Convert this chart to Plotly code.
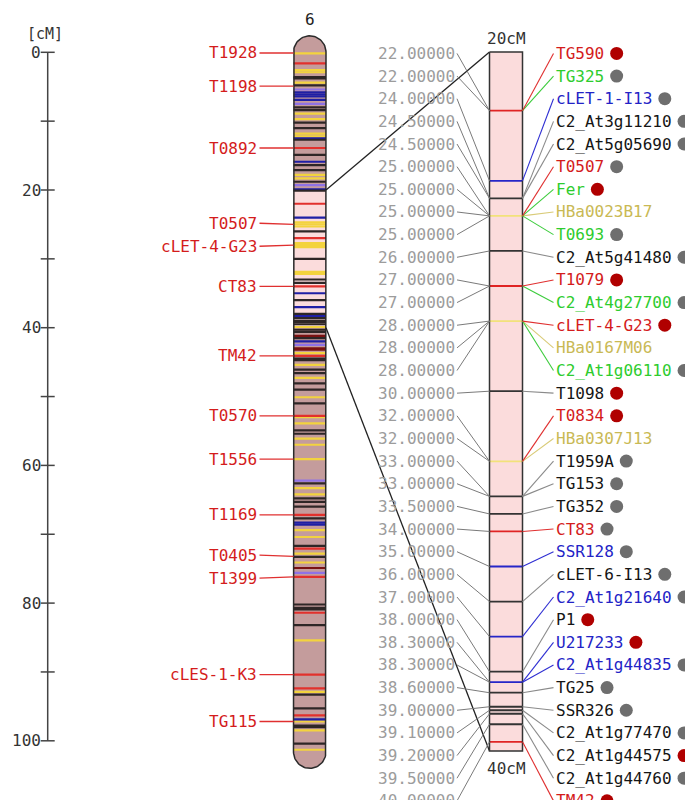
import numpy as np
import plotly.graph_objects as go

# ---------------- data ----------------
CHROMOSOME = "6"
CHROM_LENGTH = 101.6            # cM
ZOOM_START, ZOOM_END = 20, 40   # cM, highlighted region
RULER_MAX = 100
RULER_TICKS = list(range(0, 101, 10))
RULER_LABELS = list(range(0, 101, 20))

MAIN_MARKERS = ["T1928", "T1198", "T0892", "T0507", "cLET-4-G23", "CT83", "TM42",
                "T0570", "T1556", "T1169", "T0405", "T1399", "cLES-1-K3", "TG115"]
MAIN_POS = [0.1, 4.9, 13.9, 25.0, 28.0, 34.0, 44.1,
            52.8, 59.1, 67.2, 73.2, 76.2, 90.4, 97.2]

BAND_POS = [0.15, 1.6, 2.6, 2.9, 3.6, 3.8, 4.4, 4.8, 5.4, 5.8, 6.1, 6.4, 6.9, 7.5, 8.0, 8.4,
            8.9, 9.7, 10.2, 11.0, 11.8, 12.2, 12.5, 12.7, 13.9, 14.9, 15.9, 16.4, 17.1, 17.8,
            18.3, 18.8, 19.3, 19.9, 20.1,
            22.0, 24.0, 24.7, 25.0, 25.3, 26.0, 27.0, 27.7, 28.0, 28.3, 30.0, 31.9, 32.2,
            33.0, 33.5, 34.0, 35.0, 36.0, 37.0, 38.0, 38.2, 38.4, 38.6, 39.0, 39.1, 39.2,
            39.5, 39.9, 40.3,
            40.6, 41.2, 41.5, 42.0, 42.5, 43.0, 43.2, 43.7, 44.1, 44.5, 44.7, 45.4, 46.1,
            46.6, 47.3, 48.1, 49.0, 50.1, 51.0, 52.8, 53.0, 53.9, 54.9, 55.4, 56.1, 57.0,
            59.1, 62.2, 62.6, 63.3, 64.2, 64.8, 65.3, 66.0, 67.2, 67.7, 68.3, 68.6, 69.4,
            70.4, 71.7, 72.1, 72.8, 73.3, 74.1, 74.9, 75.6, 76.2, 80.2, 80.7, 80.9, 81.4,
            83.2, 85.4, 90.4, 92.4, 92.9, 93.3, 95.3, 96.3, 96.9, 97.2, 97.8, 98.0, 98.5,
            100.4, 101.3]
BAND_TYPE = ["yellow", "red", "yellow", "yellow", "black", "black", "yellow", "black", "violet",
             "blue", "blue", "blue", "blue", "violet", "black", "black",
             "yellow", "yellow", "black", "black", "yellow", "yellow", "blue", "black", "red",
             "black", "blue", "black", "black", "yellow",
             "yellow", "black", "violet", "blue", "black",
             "red", "blue", "yellow", "yellow", "yellow", "black", "red", "yellow", "yellow",
             "yellow", "black", "yellow", "yellow",
             "black", "black", "red", "blue", "black", "blue", "black", "blue", "blue", "black",
             "black", "black", "black", "black", "yellow", "black",
             "black", "darkred", "black", "blue", "violet", "darkred", "darkred", "yellow",
             "red", "black", "black", "yellow", "black",
             "black", "yellow", "black", "black", "yellow", "black", "red", "yellow", "yellow",
             "black", "black", "yellow", "yellow",
             "yellow", "violet", "black", "yellow", "yellow", "black", "black", "black", "red",
             "black", "blue", "blue", "yellow",
             "yellow", "black", "red", "yellow", "black", "yellow", "darkred", "violet", "red",
             "black", "black", "black", "red",
             "black", "yellow", "red", "red", "yellow", "black", "black", "red", "blue",
             "yellow", "black", "black", "yellow",
             "black", "yellow"]

ZOOM_MARKERS = ["TG590", "TG325", "cLET-1-I13", "C2_At3g11210", "C2_At5g05690", "T0507", "Fer",
                "HBa0023B17", "T0693", "C2_At5g41480", "T1079", "C2_At4g27700", "cLET-4-G23",
                "HBa0167M06", "C2_At1g06110", "T1098", "T0834", "HBa0307J13", "T1959A", "TG153",
                "TG352", "CT83", "SSR128", "cLET-6-I13", "C2_At1g21640", "P1", "U217233",
                "C2_At1g44835", "TG25", "SSR326", "C2_At1g77470", "C2_At1g44575",
                "C2_At1g44760", "TM42"]
ZOOM_POS = [22.0, 22.0, 24.0, 24.5, 24.5, 25.0, 25.0, 25.0, 25.0, 26.0, 27.0, 27.0, 28.0, 28.0,
            28.0, 30.0, 32.0, 32.0, 33.0, 33.0, 33.5, 34.0, 35.0, 36.0, 37.0, 38.0, 38.3, 38.3,
            38.6, 39.0, 39.1, 39.2, 39.5, 40.0]
ZOOM_TYPE = ["red", "green", "blue", "black", "black", "red", "green", "khaki", "green", "black",
             "red", "green", "red", "khaki", "green", "black", "red", "khaki", "black", "black",
             "black", "red", "blue", "black", "blue", "black", "blue", "blue", "black", "black",
             "black", "black", "black", "red"]
ZOOM_FLAG = ["red", "gray", "gray", "gray", "gray", "gray", "red", "none", "gray", "gray",
             "red", "gray", "red", "none", "gray", "red", "red", "none", "gray", "gray",
             "gray", "gray", "gray", "gray", "gray", "red", "red", "gray", "gray", "gray",
             "gray", "red", "gray", "red"]

# ---------------- styles / layout constants ----------------
W, H = 693, 800
PAGE_MARGIN = 8                     # browser body margin around the figure
FONT = "DejaVu Sans Mono"
MAIN_PX0, MAIN_K = 52.3, 6.885      # pixel of 0 cM, pixels per cM (main map)
ZOOM_PX0, ZOOM_K = -660.6, 35.06    # zoom panel scale
CHAR_W = 9.63

RULER_X = 47.7
CHR_X0, CHR_X1 = 293.5, 326.0
BOX_X0, BOX_X1 = 489.5, 522.5
NUM_RIGHT = 456.5
NAME_LEFT = 553.5
MAIN_LABEL_RIGHT = 258.5

BODY_COLOR = "#c49c9c"
HIGHLIGHT_COLOR = "#fbdcdc"
BAND_COLORS = {"yellow": "#f3d33e", "red": "#e2302c", "blue": "#1f1fa5", "black": "#2e2626",
               "violet": "#8f72e6", "darkred": "#7a1212"}
ZBAND_COLORS = {"yellow": "#f2e27a", "khaki": "#f2e27a", "red": "#e02424", "blue": "#2626c8",
                "green": "#33cc33", "black": "#333333"}
TEXT_COLORS = {"red": "#d41c1c", "green": "#2ecc2e", "blue": "#2323c6", "black": "#151515",
               "khaki": "#c9b954"}
LINK_COLORS = {"red": "#e03030", "green": "#3ccc3c", "blue": "#2e2ed2", "black": "#8a8a8a",
               "khaki": "#d9cb78"}
FLAG_COLORS = {"red": "#b00000", "gray": "#6e6e6e"}
PRIORITY = ["khaki", "red", "blue", "green", "black"]


def main_from_px(px):
    return (px - MAIN_PX0) / MAIN_K


def zoom_from_px(px):
    return (px - ZOOM_PX0) / ZOOM_K


def zoom_to_main(z):
    return main_from_px(ZOOM_PX0 + ZOOM_K * z)


def spread(ideal, gap):
    """Isotonic (pool-adjacent-violators) label spreading with a minimum gap."""
    blocks = []
    for i, v in enumerate(ideal):
        blocks.append([i, 1, v - i * gap])
        while len(blocks) > 1 and blocks[-2][2] / blocks[-2][1] > blocks[-1][2] / blocks[-1][1]:
            b = blocks.pop()
            blocks[-1][1] += b[1]
            blocks[-1][2] += b[2]
    out = []
    for s, n, tot in blocks:
        m = tot / n
        out += [m + (s + k) * gap for k in range(n)]
    return out


BOX_TOP, BOX_BOT = zoom_from_px(52), zoom_from_px(751)

fig = go.Figure()

# ---------------- ruler ----------------
fig.add_trace(go.Scatter(x=[RULER_X, RULER_X], y=[0, RULER_MAX], mode="lines",
                         line=dict(color="#444", width=1.5), hoverinfo="skip"))
fig.add_trace(go.Scatter(x=[RULER_X] * len(RULER_TICKS), y=RULER_TICKS, mode="markers",
                         marker=dict(symbol="line-ew", size=10,
                                     line=dict(color="#444", width=1.5)), hoverinfo="skip"))

annotations = []
for v in RULER_LABELS:
    annotations.append(dict(x=42.5, y=v, xref="x", yref="y", text=str(v), showarrow=False,
                            xanchor="right", yanchor="middle",
                            font=dict(family=FONT, size=16, color="#333")))
annotations.append(dict(x=45, y=main_from_px(34), xref="x", yref="y", text="[cM]",
                        showarrow=False, xanchor="center", yanchor="middle",
                        font=dict(family=FONT, size=15, color="#333")))

# ---------------- chromosome ----------------
cx = (CHR_X0 + CHR_X1) / 2
rx = (CHR_X1 - CHR_X0) / 2
ry = 16.5 / MAIN_K
t = np.linspace(0, np.pi, 40)
ox = [CHR_X0, CHR_X0] + list(cx - rx * np.cos(t)) + [CHR_X1, CHR_X1] + list(cx + rx * np.cos(t))
oy = [CHROM_LENGTH, 0] + list(-ry * np.sin(t)) + [0, CHROM_LENGTH] + list(CHROM_LENGTH + ry * np.sin(t))
ox.append(ox[0])
oy.append(oy[0])
fig.add_trace(go.Scatter(x=ox, y=oy, mode="lines", fill="toself", fillcolor=BODY_COLOR,
                         line=dict(width=0), hoverinfo="skip"))
fig.add_trace(go.Scatter(x=[CHR_X0, CHR_X1, CHR_X1, CHR_X0, CHR_X0],
                         y=[ZOOM_START, ZOOM_START, ZOOM_END, ZOOM_END, ZOOM_START],
                         mode="lines", fill="toself", fillcolor=HIGHLIGHT_COLOR,
                         line=dict(width=0), hoverinfo="skip"))
for ctype, col in BAND_COLORS.items():
    xs, ys = [], []
    for p, bt in zip(BAND_POS, BAND_TYPE):
        if bt == ctype:
            xs += [CHR_X0, CHR_X1, None]
            ys += [p, p, None]
    fig.add_trace(go.Scatter(x=xs, y=ys, mode="lines", line=dict(color=col, width=2.2),
                             hoverinfo="skip"))
fig.add_trace(go.Scatter(x=ox, y=oy, mode="lines", line=dict(color="#2a2a2a", width=1.5),
                         hoverinfo="skip"))
annotations.append(dict(x=cx, y=main_from_px(19), xref="x", yref="y", text=CHROMOSOME,
                        showarrow=False, xanchor="center", yanchor="middle",
                        font=dict(family=FONT, size=16, color="#222")))

# main marker labels
main_rows = spread(MAIN_POS, 23 / MAIN_K)
lx, ly = [], []
for name, p, r in zip(MAIN_MARKERS, MAIN_POS, main_rows):
    lx += [MAIN_LABEL_RIGHT + 1, CHR_X0, None]
    ly += [r, p, None]
    annotations.append(dict(x=MAIN_LABEL_RIGHT, y=r, xref="x", yref="y", text=name,
                            showarrow=False, xanchor="right", yanchor="middle",
                            font=dict(family=FONT, size=16, color=TEXT_COLORS["red"])))
fig.add_trace(go.Scatter(x=lx, y=ly, mode="lines", line=dict(color="#e03030", width=1.3),
                         hoverinfo="skip"))

# zoom guide lines (main-axis units)
fig.add_trace(go.Scatter(x=[CHR_X1, BOX_X0, None, CHR_X1, BOX_X0],
                         y=[ZOOM_START, zoom_to_main(BOX_TOP), None, ZOOM_END, zoom_to_main(BOX_BOT)],
                         mode="lines", line=dict(color="#222", width=1.3), hoverinfo="skip"))

# ---------------- zoom panel (y2) ----------------
fig.add_trace(go.Scatter(x=[BOX_X0, BOX_X1, BOX_X1, BOX_X0, BOX_X0],
                         y=[BOX_TOP, BOX_TOP, BOX_BOT, BOX_BOT, BOX_TOP], yaxis="y2",
                         mode="lines", fill="toself", fillcolor=HIGHLIGHT_COLOR,
                         line=dict(width=0), hoverinfo="skip"))
band_color_at = {}
for p, ty in zip(ZOOM_POS, ZOOM_TYPE):
    cur = band_color_at.get(p)
    if cur is None or PRIORITY.index(ty) < PRIORITY.index(cur):
        band_color_at[p] = ty
for ty in PRIORITY:
    xs, ys = [], []
    for p, bt in band_color_at.items():
        if bt == ty:
            xs += [BOX_X0, BOX_X1, None]
            ys += [p, p, None]
    if xs:
        fig.add_trace(go.Scatter(x=xs, y=ys, yaxis="y2", mode="lines",
                                 line=dict(color=ZBAND_COLORS[ty], width=1.8), hoverinfo="skip"))
fig.add_trace(go.Scatter(x=[BOX_X0, BOX_X1, BOX_X1, BOX_X0, BOX_X0],
                         y=[BOX_TOP, BOX_TOP, BOX_BOT, BOX_BOT, BOX_TOP], yaxis="y2",
                         mode="lines", line=dict(color="#333", width=1.5), hoverinfo="skip"))
annotations.append(dict(x=(BOX_X0 + BOX_X1) / 2, y=BOX_TOP, xref="x", yref="y2",
                        text=f"{ZOOM_START}cM", showarrow=False, xanchor="center",
                        yanchor="bottom", yshift=2, font=dict(family=FONT, size=16, color="#333")))
annotations.append(dict(x=(BOX_X0 + BOX_X1) / 2, y=BOX_BOT, xref="x", yref="y2",
                        text=f"{ZOOM_END}cM", showarrow=False, xanchor="center",
                        yanchor="top", yshift=-6, font=dict(family=FONT, size=16, color="#333")))

rows = [r - 12 / ZOOM_K for r in spread(ZOOM_POS, 22.65 / ZOOM_K)]

# left connectors (gray)
gx, gy = [], []
for p, r in zip(ZOOM_POS, rows):
    gx += [NUM_RIGHT + 0.5, BOX_X0, None]
    gy += [r, p, None]
fig.add_trace(go.Scatter(x=gx, y=gy, yaxis="y2", mode="lines",
                         line=dict(color="#7a7a7a", width=1), hoverinfo="skip"))
# right connectors (coloured)
for ty in ["black", "khaki", "green", "blue", "red"]:
    xs, ys = [], []
    for p, r, t_ in zip(ZOOM_POS, rows, ZOOM_TYPE):
        if t_ == ty:
            xs += [BOX_X1, NAME_LEFT, None]
            ys += [p, r, None]
    fig.add_trace(go.Scatter(x=xs, y=ys, yaxis="y2", mode="lines",
                             line=dict(color=LINK_COLORS[ty], width=1.1), hoverinfo="skip"))

for name, p, r, ty in zip(ZOOM_MARKERS, ZOOM_POS, rows, ZOOM_TYPE):
    annotations.append(dict(x=NUM_RIGHT, y=r, xref="x", yref="y2", text=f"{p:.5f}",
                            showarrow=False, xanchor="right", yanchor="middle",
                            font=dict(family=FONT, size=16, color="#9c9c9c")))
    annotations.append(dict(x=NAME_LEFT, y=r, xref="x", yref="y2", text=name,
                            showarrow=False, xanchor="left", yanchor="middle",
                            font=dict(family=FONT, size=16, color=TEXT_COLORS[ty])))

for fl in ["red", "gray"]:
    xs, ys = [], []
    for name, r, f in zip(ZOOM_MARKERS, rows, ZOOM_FLAG):
        if f == fl:
            xs.append(NAME_LEFT + len(name) * CHAR_W + 15)
            ys.append(r)
    fig.add_trace(go.Scatter(x=xs, y=ys, yaxis="y2", mode="markers",
                             marker=dict(symbol="circle", size=13, color=FLAG_COLORS[fl],
                                         line=dict(width=0)), hoverinfo="skip"))

# the figure sits PAGE_MARGIN px from the page's top-left corner; axis ranges are in
# reference-picture pixels so that everything lands where the reference draws it
fig.update_layout(
    width=W, height=H, margin=dict(l=0, r=0, t=0, b=0),
    paper_bgcolor="white", plot_bgcolor="white", showlegend=False,
    xaxis=dict(range=[PAGE_MARGIN, W + PAGE_MARGIN], visible=False, fixedrange=True),
    yaxis=dict(range=[main_from_px(H + PAGE_MARGIN), main_from_px(PAGE_MARGIN)],
               visible=False, fixedrange=True),
    yaxis2=dict(range=[zoom_from_px(H + PAGE_MARGIN), zoom_from_px(PAGE_MARGIN)],
                visible=False, overlaying="y", anchor="x", fixedrange=True),
    annotations=annotations,
)

fig.write_html("out.html")
